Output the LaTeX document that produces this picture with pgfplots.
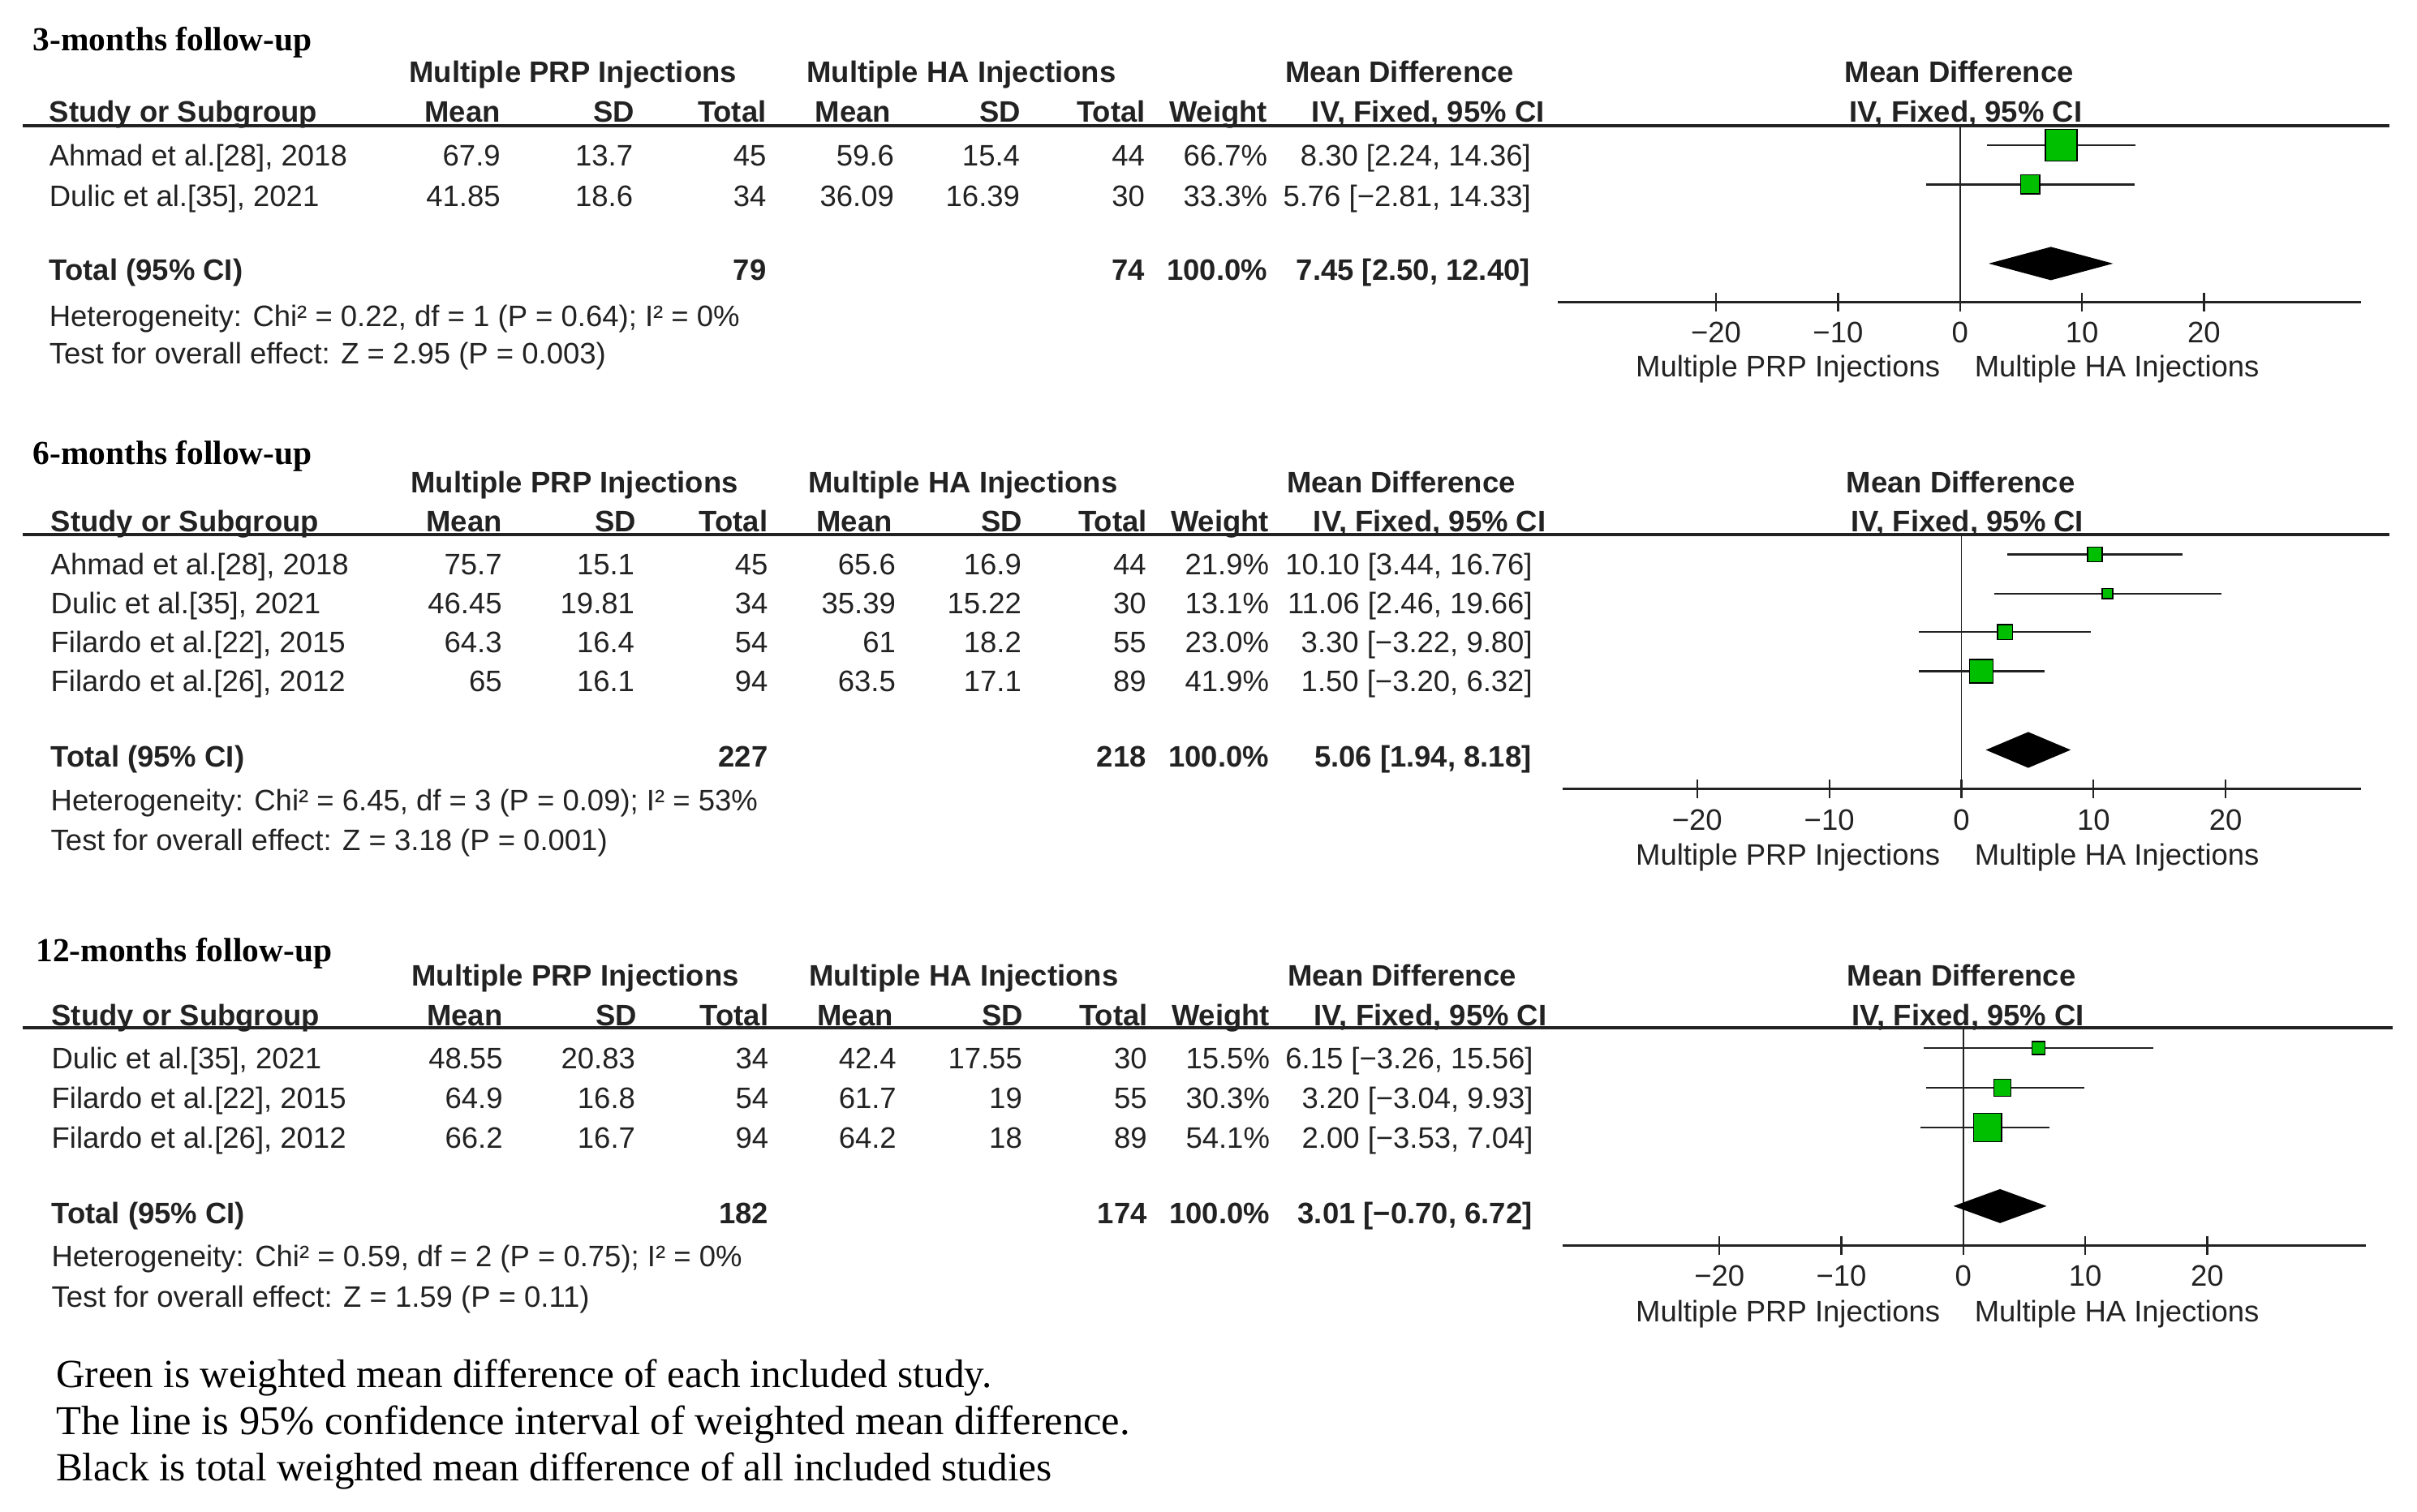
\documentclass[border=0pt]{standalone}
\usepackage{fontspec}
\setmainfont{Liberation Sans}
\newfontfamily\tnr{Liberation Serif}
\usepackage{pgfplots}
\pgfplotsset{compat=1.18}

\definecolor{mkgreen}{RGB}{0,190,0}
\definecolor{ink}{RGB}{34,34,34}
\newcommand\fs{\fontsize{9.6}{11.5}\selectfont}

\tikzset{
  txt/.style={inner sep=0pt, anchor=base east, font=\fs, text=ink},
  hd/.style={txt, font=\fs\bfseries},
}
\pgfplotsset{
  forest/.style={
    scale only axis, clip=false,
    axis x line=bottom, axis y line=none,
    x axis line style={-, line width=0.8pt, ink},
    xtick={-20,-10,0,10,20},
    xticklabels={−20,−10,0,10,20},
    tick align=center, major tick length=6pt,
    tick style={ink, line width=0.6pt},
    xticklabel style={font=\fs, text=ink, anchor=base, inner sep=0pt, yshift=-10.3pt},
  },
  ciline/.style={ink, line width=0.6pt, no marks},
  study/.style={only marks, mark=square*, mark options={draw=none, fill=mkgreen}},
  pooled/.style={fill=black, draw=black, line width=0.3pt, no marks},
}

% y (baseline), study, mean, sd, n, mean, sd, n, weight
\newcommand\trow[9]{%
  \node[txt, anchor=base west] at (31.6,#1) {#2};
  \node[txt] at (325,#1) {#3};
  \node[txt] at (411,#1) {#4};
  \node[txt] at (497.5,#1) {#5};
  \node[txt] at (580.4,#1) {#6};
  \node[txt] at (662,#1) {#7};
  \node[txt] at (743,#1) {#8};
  \node[txt] at (822.6,#1) {#9};
}
\newcommand\cival[2]{\node[txt] at (993.5,#1) {#2};}
\newcommand\heads[2]{%
  \node[hd, anchor=base] at (371.7,#1) {Multiple PRP Injections};
  \node[hd, anchor=base] at (623.7,#1) {Multiple HA Injections};
  \node[hd, anchor=base] at (908,#1) {Mean Difference};
  \node[hd, anchor=base] at (1271,#1) {Mean Difference};
  \node[hd, anchor=base west] at (31.6,#2) {Study or Subgroup};
  \node[hd] at (325,#2) {Mean};
  \node[hd] at (412,#2) {SD};
  \node[hd] at (497.5,#2) {Total};
  \node[hd] at (578.3,#2) {Mean};
  \node[hd] at (662.6,#2) {SD};
  \node[hd] at (743.5,#2) {Total};
  \node[hd] at (822.6,#2) {Weight};
  \node[hd, anchor=base] at (926.5,#2) {IV, Fixed, 95\% CI};
  \node[hd, anchor=base] at (1275.3,#2) {IV, Fixed, 95\% CI};
}
% y, n PRP, n HA, pooled CI
\newcommand\tot[4]{%
  \node[hd, anchor=base west] at (31.6,#1) {Total (95\% CI)};
  \node[hd] at (497.5,#1) {#2};
  \node[hd] at (743,#1) {#3};
  \node[hd] at (822.6,#1) {100.0\%};
  \node[hd] at (993,#1) {#4};
}
\newcommand\note[2]{\node[txt, anchor=base west] at (31.6,#1) {#2};}
\newcommand\sides[1]{%
  \node[txt] at (1259,#1) {Multiple PRP Injections};
  \node[txt, anchor=base west] at (1280.6,#1) {Multiple HA Injections};
}

\begin{document}
\begin{tikzpicture}[x=0.5pt, y=-0.5pt]
\path[use as bounding box] (0,0) rectangle (1568,981);
\tikzset{ttl/.style={inner sep=0pt, anchor=base west, font=\tnr\bfseries\fontsize{10.9}{12}\selectfont}}

% ---------- 3 months ----------
\node[ttl] at (21,33) {3-months follow-up};
\heads{53.5}{79.3}
\draw[ink, line width=1pt] (15,81.6) -- (1550,81.6);
\trow{107.4}{Ahmad et al.[28], 2018}{67.9}{13.7}{45}{59.6}{15.4}{44}{66.7\%}
\cival{107.4}{8.30 [2.24, 14.36]}
\trow{133.7}{Dulic et al.[35], 2021}{41.85}{18.6}{34}{36.09}{16.39}{30}{33.3\%}
\cival{133.7}{5.76 [−2.81, 14.33]}
\tot{181.6}{79}{74}{7.45 [2.50, 12.40]}
\note{211.6}{Heterogeneity: Chi² = 0.22, df = 1 (P = 0.64); I² = 0\%}
\note{236}{Test for overall effect: Z = 2.95 (P = 0.003)}
\sides{244.7}

\coordinate (P1) at (1010.8,196);
\begin{axis}[forest, at={(P1)}, anchor=south west,
  width=260.4pt, height=57.2pt,
  xmin=-32.95, xmax=32.87, ymin=-196, ymax=-81.6]
\addplot[ink, line width=0.5pt] coordinates {(0,-81.6) (0,-196)};
\addplot[ciline] coordinates {(2.24,-94.2) (14.36,-94.2)};
\addplot[ciline] coordinates {(-2.81,-119.7) (14.33,-119.7)};
\addplot[study, mark size=5.18pt] coordinates {(8.30,-94.2)};
\addplot[study, mark size=3.08pt] coordinates {(5.76,-119.7)};
\addplot[pooled] coordinates {(2.50,-171) (7.45,-160.5) (12.40,-171) (7.45,-181.5)} -- cycle;
\end{axis}

% ---------- 6 months ----------
\node[ttl] at (21,301.3) {6-months follow-up};
\draw[ink, line width=1pt] (15,346.7) -- (1550,346.7);
\begin{scope}[xshift=0.5pt]
\heads{319.9}{345}
\trow{373}{Ahmad et al.[28], 2018}{75.7}{15.1}{45}{65.6}{16.9}{44}{21.9\%}
\cival{373}{10.10 [3.44, 16.76]}
\trow{398.4}{Dulic et al.[35], 2021}{46.45}{19.81}{34}{35.39}{15.22}{30}{13.1\%}
\cival{398.4}{11.06 [2.46, 19.66]}
\trow{423.4}{Filardo et al.[22], 2015}{64.3}{16.4}{54}{61}{18.2}{55}{23.0\%}
\cival{423.4}{3.30 [−3.22, 9.80]}
\trow{448.7}{Filardo et al.[26], 2012}{65}{16.1}{94}{63.5}{17.1}{89}{41.9\%}
\cival{448.7}{1.50 [−3.20, 6.32]}
\tot{497.9}{227}{218}{5.06 [1.94, 8.18]}
\note{525.9}{Heterogeneity: Chi² = 6.45, df = 3 (P = 0.09); I² = 53\%}
\note{552}{Test for overall effect: Z = 3.18 (P = 0.001)}
\end{scope}
\sides{561.5}

\coordinate (P2) at (1013.7,512);
\begin{axis}[forest, at={(P2)}, anchor=south west,
  width=258.95pt, height=82.65pt,
  xmin=-30.19, xmax=30.24, ymin=-512, ymax=-346.7]
\addplot[ink, line width=0.5pt] coordinates {(0,-346.7) (0,-512)};
\addplot[ciline] coordinates {(3.44,-359.8) (16.76,-359.8)};
\addplot[ciline] coordinates {(2.46,-385.2) (19.66,-385.2)};
\addplot[ciline] coordinates {(-3.22,-410.2) (9.80,-410.2)};
\addplot[ciline] coordinates {(-3.20,-435.5) (6.32,-435.5)};
\addplot[study, mark size=2.4pt] coordinates {(10.10,-359.8)};
\addplot[study, mark size=1.68pt] coordinates {(11.06,-385.2)};
\addplot[study, mark size=2.4pt] coordinates {(3.30,-410.2)};
\addplot[study, mark size=3.8pt] coordinates {(1.50,-435.5)};
\addplot[pooled] coordinates {(1.94,-486.6) (5.06,-475.3) (8.18,-486.6) (5.06,-497.9)} -- cycle;
\end{axis}

% ---------- 12 months ----------
\node[ttl] at (23,624.2) {12-months follow-up};
\draw[ink, line width=1pt] (15,667) -- (1552,667);
\begin{scope}[xshift=0.75pt]
\heads{640}{665.3}
\trow{693.2}{Dulic et al.[35], 2021}{48.55}{20.83}{34}{42.4}{17.55}{30}{15.5\%}
\cival{693.2}{6.15 [−3.26, 15.56]}
\trow{719}{Filardo et al.[22], 2015}{64.9}{16.8}{54}{61.7}{19}{55}{30.3\%}
\cival{719}{3.20 [−3.04, 9.93]}
\trow{744.8}{Filardo et al.[26], 2012}{66.2}{16.7}{94}{64.2}{18}{89}{54.1\%}
\cival{744.8}{2.00 [−3.53, 7.04]}
\tot{794}{182}{174}{3.01 [−0.70, 6.72]}
\note{822}{Heterogeneity: Chi² = 0.59, df = 2 (P = 0.75); I² = 0\%}
\note{848}{Test for overall effect: Z = 1.59 (P = 0.11)}
\end{scope}
\sides{857.8}

\coordinate (P3) at (1013.7,808.1);
\begin{axis}[forest, at={(P3)}, anchor=south west,
  width=260.5pt, height=70.55pt,
  xmin=-32.87, xmax=33.0, ymin=-808.1, ymax=-667]
\addplot[ink, line width=0.5pt] coordinates {(0,-667) (0,-808.1)};
\addplot[ciline] coordinates {(-3.26,-680) (15.56,-680)};
\addplot[ciline] coordinates {(-3.04,-705.8) (9.93,-705.8)};
\addplot[ciline] coordinates {(-3.53,-731.6) (7.04,-731.6)};
\addplot[study, mark size=2.1pt] coordinates {(6.15,-680)};
\addplot[study, mark size=2.75pt] coordinates {(3.20,-705.8)};
\addplot[study, mark size=4.55pt] coordinates {(2.00,-731.6)};
\addplot[pooled] coordinates {(-0.70,-782.6) (3.01,-771.9) (6.72,-782.6) (3.01,-793.3)} -- cycle;
\end{axis}

% ---------- legend text ----------
\begin{scope}[every node/.style={inner sep=0pt, anchor=base west, text=black}]
\node[font=\tnr\fontsize{12.95}{15}\selectfont] at (36,900.2) {Green is weighted mean difference of each included study.};
\node[font=\tnr\fontsize{13.3}{15}\selectfont] at (36,930.7) {The line is 95\% confidence interval of weighted mean difference.};
\node[font=\tnr\fontsize{12.95}{15}\selectfont] at (36,961) {Black is total weighted mean difference of all included studies};
\end{scope}
\end{tikzpicture}
\end{document}
